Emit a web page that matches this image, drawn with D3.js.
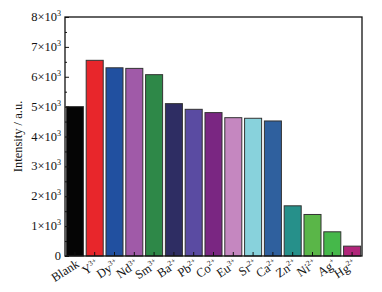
<!DOCTYPE html>
<html>
<head>
<meta charset="utf-8">
<script src="https://cdn.jsdelivr.net/npm/d3@7"></script>
<style>
  body { margin: 0; background: #fff; }
  text { font-family: "Liberation Serif", "DejaVu Serif", serif; }
</style>
</head>
<body>
<div id="chart"></div>
<script>
const ions = ["Blank", "Y", "Dy", "Nd", "Sm", "Ba", "Pb", "Co", "Eu", "Sr", "Ca", "Zn", "Ni", "Ag", "Hg"];
const charges = ["", "3+", "3+", "3+", "3+", "2+", "2+", "2+", "3+", "2+", "2+", "2+", "2+", "+", "2+"];
const intensity = [5000, 6550, 6300, 6280, 6070, 5100, 4910, 4800, 4630, 4610, 4520, 1680, 1390, 810, 330];
const colors = ["#050505", "#e8262b", "#2150a0", "#a05aa8", "#2e8848", "#2e2d63", "#5a4ba2", "#7a2682",
                "#c587c0", "#88d2dc", "#2f609e", "#26908a", "#5ab648", "#45b84a", "#b1257a"];
const yTicks = [0, 1000, 2000, 3000, 4000, 5000, 6000, 7000, 8000];

const W = 382, H = 292;
const m = { l: 65, r: 20, t: 17, b: 36 };

const svg = d3.select("#chart").append("svg").attr("width", W).attr("height", H);

const x = d3.scaleBand().domain(ions).range([m.l, W - m.r]).paddingInner(0.14).paddingOuter(0.07);
const y = d3.scaleLinear().domain([0, 8000]).range([H - m.b, m.t]);

// bars
svg.selectAll("rect.bar")
  .data(ions)
  .join("rect")
    .attr("class", "bar")
    .attr("x", d => x(d))
    .attr("width", x.bandwidth())
    .attr("y", (d, i) => y(intensity[i]))
    .attr("height", (d, i) => y(0) - y(intensity[i]))
    .attr("fill", (d, i) => colors[i])
    .attr("stroke", "#333")
    .attr("stroke-width", 1);

// frame
svg.append("rect")
  .attr("x", m.l).attr("y", m.t)
  .attr("width", W - m.r - m.l).attr("height", H - m.b - m.t)
  .attr("fill", "none").attr("stroke", "#111").attr("stroke-width", 1.3);

// y axis, ticks inward
const yAxis = svg.append("g").attr("transform", `translate(${m.l},0)`)
  .call(d3.axisLeft(y).tickValues(yTicks).tickSize(-4).tickFormat(() => ""));
yAxis.select(".domain").remove();
yAxis.selectAll(".tick line").attr("stroke", "#111");

// minor ticks
svg.append("g").attr("transform", `translate(${m.l},0)`)
  .call(d3.axisLeft(y).tickValues(d3.range(500, 8000, 1000)).tickSize(-2).tickFormat(""))
  .call(g => g.select(".domain").remove())
  .selectAll(".tick line").attr("stroke", "#111");

// y labels: a×10³
const yl = svg.append("g").selectAll("text")
  .data(yTicks)
  .join("text")
    .attr("x", m.l - 4)
    .attr("y", d => y(d) + 4)
    .attr("text-anchor", "end")
    .attr("font-size", 12.5)
    .attr("fill", "#111");
yl.each(function(d) {
  const t = d3.select(this);
  if (d === 0) { t.text("0"); return; }
  t.append("tspan").text(`${d / 1000}×10`);
  t.append("tspan").attr("font-size", 8).attr("dy", -5).text("3");
});

// x axis ticks inward
const xAxis = svg.append("g").attr("transform", `translate(0,${H - m.b})`)
  .call(d3.axisBottom(x).tickSize(-4).tickFormat(""));
xAxis.select(".domain").remove();
xAxis.selectAll(".tick line").attr("stroke", "#111");

// x labels rotated
const xl = svg.append("g").selectAll("text")
  .data(ions)
  .join("text")
    .attr("text-anchor", "end")
    .attr("font-size", 12.5)
    .attr("fill", "#111")
    .attr("transform", d => `translate(${x(d) + x.bandwidth() / 2 + 5},${H - m.b + 10}) rotate(-33)`);
xl.each(function(d, i) {
  const t = d3.select(this);
  t.append("tspan").text(d);
  if (charges[i]) t.append("tspan").attr("font-size", 7.5).attr("dy", -5).text(charges[i]);
});

// y title
svg.append("text")
  .attr("transform", `translate(22,${(m.t + H - m.b) / 2}) rotate(-90)`)
  .attr("text-anchor", "middle")
  .attr("font-size", 12.5)
  .attr("fill", "#111")
  .text("Intensity / a.u.");
</script>
</body>
</html>
